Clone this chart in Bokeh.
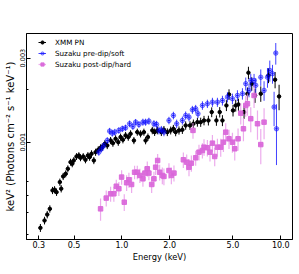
from bokeh.plotting import figure
from bokeh.models import ColumnDataSource, FixedTicker, PrintfTickFormatter, Legend, LegendItem
from bokeh.embed import file_html
from bokeh.resources import INLINE

# ---------------- data ----------------
x_ticks = [0.3, 0.5, 1.0, 2.0, 5.0, 10.0]
y_ticks = [0.001, 0.003]
y_minor = [0.0003, 0.0004, 0.0005, 0.0006, 0.002]

xmm_e = [0.307,0.326,0.339,0.352,0.366,0.377,0.388,0.407,0.415,0.427,0.443,0.457,0.475,0.487,0.498,0.518,0.536,0.549,0.571,0.590,0.611,
         0.626,0.644,0.666,0.683,0.710,0.734,0.752,0.781,0.809,0.849,0.878,0.913,0.949,0.981,1.015,1.055,1.097,1.134,1.190,1.250,1.311,1.376,
         1.410,1.458,1.554,1.607,1.671,1.771,1.839,1.932,2.028,2.109,2.180,2.287,2.402,2.520,2.683,2.818,2.987,
         3.133,3.287,3.503,3.675,3.934,4.128,4.293,4.548,4.723,5.005,5.205,5.414,5.872,6.168,6.258,6.566,6.888,7.482,8.366,9.207,9.757]
xmm_f = [0.000326,0.000359,0.000388,0.000418,0.000532,0.000537,0.000520,0.000593,0.000544,0.000639,0.000661,0.000706,0.000770,0.000754,0.000787,0.000829,0.000840,0.000815,0.000829,0.000794,0.000840,
         0.000822,0.000859,0.000787,0.000877,0.000905,0.000929,0.000937,0.000979,0.000958,0.001022,0.000987,0.001045,0.001000,0.001068,0.001032,0.001092,0.001068,0.001116,0.001022,0.001140,0.001116,0.001140,
         0.001022,0.001068,0.001166,0.001140,0.001166,0.001140,0.001176,0.001140,0.001166,0.001191,0.001140,0.001166,0.001176,0.001244,0.001244,0.001272,0.001299,
         0.001299,0.001328,0.001328,0.001481,0.001328,0.001481,0.001328,0.001616,0.001866,0.001514,0.001616,0.001637,0.001481,0.001884,0.002480,0.002147,0.001841,0.001884,0.002393,0.002262,0.001818]
xmm_err = [0.000017,0.000018,0.000019,0.000020,0.000025,0.000025,0.000025,0.000028,0.000026,0.000030,0.000030,0.000032,0.000035,0.000034,0.000035,0.000037,0.000037,0.000036,0.000037,0.000036,0.000038,
           0.000038,0.000040,0.000037,0.000041,0.000042,0.000043,0.000044,0.000046,0.000045,0.000048,0.000046,0.000049,0.000047,0.000050,0.000048,0.000051,0.000050,0.000052,0.000048,0.000053,0.000052,0.000053,
           0.000050,0.000052,0.000057,0.000056,0.000058,0.000057,0.000059,0.000058,0.000060,0.000062,0.000060,0.000062,0.000063,0.000068,0.000070,0.000072,0.000075,
           0.000078,0.000082,0.000085,0.000095,0.000090,0.000100,0.000095,0.000115,0.000130,0.000115,0.000125,0.000130,0.000125,0.000160,0.000200,0.000190,0.000170,0.000190,0.000230,0.000240,0.000300]

soft_e = [0.716,0.745,0.770,0.809,0.837,0.870,0.903,0.957,1.006,1.055,1.118,1.173,1.220,1.280,1.356,1.410,1.479,1.591,1.654,1.710,1.771,1.839,
          1.978,2.109,2.212,2.402,2.520,2.644,2.777,2.913,3.012,3.212,3.452,3.713,3.992,4.293,4.615,4.962,5.335,5.736,
          6.018,6.313,6.471,6.789,6.958,7.482,7.849,8.246,8.526,8.867,9.075,9.300,9.395]
soft_f = [0.000877,0.000917,0.000958,0.001022,0.001155,0.001125,0.001140,0.001166,0.001191,0.001207,0.001272,0.001228,0.001299,0.001261,0.001299,0.001299,0.001316,0.001272,0.001261,0.001166,0.001176,0.001140,
          0.001328,0.001418,0.001272,0.001328,0.001418,0.001387,0.001527,0.001548,0.001450,0.001616,0.001652,0.001686,0.001686,0.001724,0.001802,0.001765,0.001841,0.001884,
          0.002147,0.001967,0.002241,0.002241,0.002102,0.002337,0.001967,0.002337,0.002555,0.002447,0.001582,0.003205,0.001191]
soft_err = [0.00004,0.00004,0.00004,0.000045,0.00005,0.00005,0.00005,0.00005,0.00005,0.00005,0.000055,0.000055,0.000055,0.000055,0.00006,0.00006,0.00006,0.00006,0.00006,0.00006,0.00006,0.00006,
            0.000065,0.00007,0.00007,0.00007,0.000075,0.000075,0.00008,0.00008,0.00008,0.00009,0.00009,0.0001,0.0001,0.00011,0.00012,0.00012,0.00013,0.00014,
            0.00018,0.00017,0.0002,0.0002,0.0002,0.00025,0.00025,0.0003,0.00035,0.0003,0.00035,0.00045,0.00045]

hard_e = [0.734,0.797,0.849,0.890,0.922,0.957,0.996,1.035,1.071,1.107,1.151,1.202,1.250,1.298,1.356,1.396,1.445,1.479,1.539,1.591,
          1.631,1.679,1.728,1.797,1.839,1.978,2.048,2.127,2.437,2.557,2.644,2.737,2.802,2.913,3.056,3.212,3.287,3.452,3.585,3.713,
          3.838,3.992,4.188,4.355,4.502,4.723,4.962,5.131,5.383,5.598,5.821,6.018,6.168,6.471,6.789,7.134,7.482,7.849]
hard_f = [0.000418,0.000481,0.000509,0.000509,0.000562,0.000544,0.000633,0.000456,0.000588,0.000611,0.000575,0.000675,0.000675,0.000647,0.000619,0.000667,0.000706,0.000667,0.000575,0.000619,
          0.000721,0.000787,0.000675,0.000647,0.000639,0.000690,0.000647,0.000667,0.000794,0.000770,0.000721,0.000760,0.001166,0.000815,0.000877,0.000897,0.000937,0.000929,0.000877,0.000987,
          0.000829,0.000937,0.000937,0.001000,0.001140,0.001045,0.001000,0.000917,0.001045,0.001461,0.001191,0.001616,0.001652,0.001359,0.001841,0.001272,0.000969,0.001299]
hard_err = [0.00006,0.00005,0.00005,0.00005,0.00005,0.00005,0.00006,0.00005,0.00006,0.00006,0.00006,0.00006,0.00006,0.00006,0.00006,0.00006,0.00007,0.00006,0.00006,0.00006,
            0.00007,0.00007,0.00007,0.00007,0.00007,0.00007,0.00007,0.00007,0.00008,0.00008,0.00008,0.00008,0.00012,0.00008,0.00009,0.00009,0.0001,0.0001,0.0001,0.00011,
            0.0001,0.00011,0.00011,0.00012,0.00014,0.00013,0.00013,0.00013,0.00015,0.0002,0.00018,0.00022,0.00024,0.00022,0.00028,0.00024,0.00022,0.00026]

labels = ["XMM PN", "Suzaku pre-dip/soft", "Suzaku post-dip/hard"]

# ---------------- figure ----------------
FONT = "DejaVu Sans"
p = figure(width=299, height=274, x_axis_type="log", y_axis_type="log",
           x_range=(0.251, 11.85), y_range=(0.00028, 0.00414),
           output_backend="svg", toolbar_location=None,
           min_border_left=26, min_border_right=7, min_border_top=33, min_border_bottom=35)
p.xgrid.visible = False
p.ygrid.visible = False
p.outline_line_color = "black"
p.outline_line_width = 1
p.outline_line_alpha = 1
p.background_fill_color = "white"
p.border_fill_color = "white"

p.xaxis.ticker = FixedTicker(ticks=x_ticks, minor_ticks=[])
p.xaxis.formatter = PrintfTickFormatter(format="%.1f")
p.yaxis.ticker = FixedTicker(ticks=y_ticks, minor_ticks=y_minor)
p.yaxis.formatter = PrintfTickFormatter(format="%.3f")
p.yaxis.major_label_orientation = "vertical"

for ax in (p.xaxis[0], p.yaxis[0]):
    ax.major_tick_in = 4
    ax.major_tick_out = 0
    ax.minor_tick_in = 2
    ax.minor_tick_out = 0
    ax.axis_line_color = "black"
    ax.major_tick_line_color = "black"
    ax.minor_tick_line_color = "black"
    ax.major_label_text_font = FONT
    ax.major_label_text_font_size = "8px"
    ax.major_label_text_color = "black"
    ax.axis_label_text_font = FONT
    ax.axis_label_text_font_style = "normal"
    ax.axis_label_text_color = "black"

p.xaxis.axis_label = "Energy (keV)"
p.xaxis.axis_label_text_font_size = "8.3px"
p.xaxis.major_label_standoff = 1
p.xaxis.axis_label_standoff = 1
p.yaxis.axis_label = "keV\u00b2 (Photons cm\u207b\u00b2 s\u207b\u00b9 keV\u207b\u00b9)"
p.yaxis.axis_label_text_font_size = "10px"
p.yaxis.major_label_standoff = 1
p.yaxis.axis_label_standoff = 2
p.yaxis.major_label_text_font_size = "6.5px"


def make_source(e, f, err, frac):
    return ColumnDataSource(dict(
        x=e, y=f,
        ylo=[a - b for a, b in zip(f, err)],
        yhi=[a + b for a, b in zip(f, err)],
        xlo=[a * (1 - frac) for a in e],
        xhi=[a * (1 + frac) for a in e],
    ))


items = []

# XMM PN (black)
src = make_source(xmm_e, xmm_f, xmm_err, 0.022)
p.segment(x0="x", y0="ylo", x1="x", y1="yhi", source=src, line_color="black", line_width=1)
h = p.segment(x0="xlo", y0="y", x1="xhi", y1="y", source=src, line_color="black", line_width=1)
m = p.scatter(x="x", y="y", source=src, marker="circle", size=3.5, fill_color="black", line_color="black")
items.append(LegendItem(label=labels[0], renderers=[h, m]))

# Suzaku soft (blue)
src = make_source(soft_e, soft_f, soft_err, 0.02)
p.segment(x0="x", y0="ylo", x1="x", y1="yhi", source=src, line_color="blue", line_width=1, line_alpha=0.75)
h = p.segment(x0="xlo", y0="y", x1="xhi", y1="y", source=src, line_color="blue", line_width=1, line_alpha=0.75)
m = p.scatter(x="x", y="y", source=src, marker="circle", size=4.5, fill_color="blue", fill_alpha=0.3,
              line_color="blue", line_alpha=0.5)
items.append(LegendItem(label=labels[1], renderers=[h, m]))

# Suzaku hard (pink)
src = make_source(hard_e, hard_f, hard_err, 0.022)
p.segment(x0="x", y0="ylo", x1="x", y1="yhi", source=src, line_color="#e58fe5", line_width=1.2, line_alpha=0.75)
h = p.segment(x0="xlo", y0="y", x1="xhi", y1="y", source=src, line_color="#e58fe5", line_width=1.2, line_alpha=0.75)
m = p.scatter(x="x", y="y", source=src, marker="square", size=4.5, fill_color="#d966d9", fill_alpha=0.9,
              line_color="#d966d9", line_alpha=0.9)
items.append(LegendItem(label=labels[2], renderers=[h, m]))

legend = Legend(items=items, location=(10, 168), margin=0, padding=2, spacing=1,
                label_height=10, glyph_height=10, glyph_width=8, label_standoff=9,
                label_text_font=FONT, label_text_font_size="7.2px", label_text_color="black",
                border_line_alpha=0, background_fill_alpha=0)
p.add_layout(legend)

open("out.html", "w").write(file_html(p, INLINE))
